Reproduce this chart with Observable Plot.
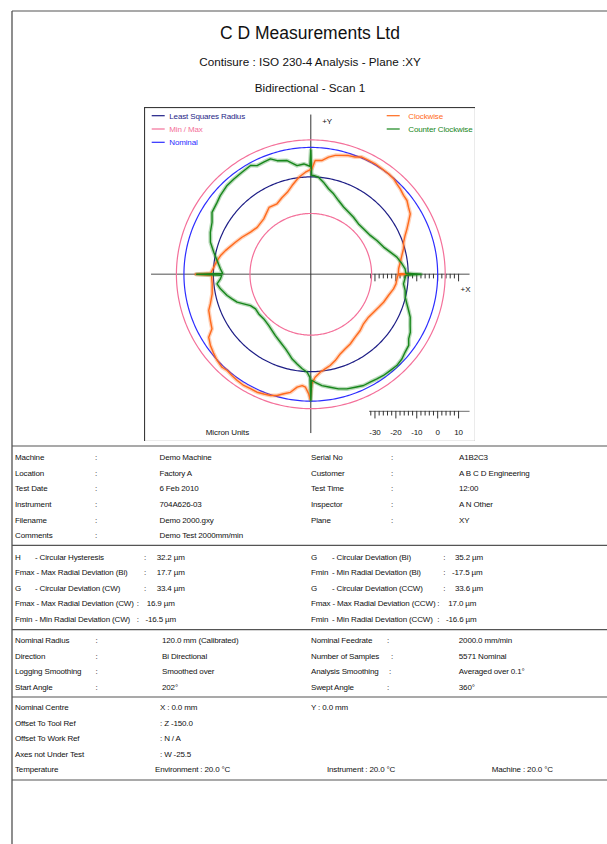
<!DOCTYPE html>
<html><head><meta charset="utf-8">
<script src="https://cdn.jsdelivr.net/npm/d3@7"></script>
<script src="https://cdn.jsdelivr.net/npm/@observablehq/plot@0.6"></script>
<style>
body{margin:0;background:#fff;}
#page{position:relative;width:607px;height:844px;overflow:hidden;background:#fff;}
#chart{position:absolute;left:144px;top:107px;}
#overlay{position:absolute;left:0;top:0;pointer-events:none;}
</style></head><body><div id="page"><div id="chart"></div></div>
<script>
// ---------- DATA (angle in degrees CCW from +X, radial deviation from nominal in µm) ----------
const clockwise = [[0,-13.5],[0.5,-18.8],[3.6,-18.6],[7.7,-17.5],[11.7,-16.2],[15.4,-14.7],[19.1,-13.7],[22.4,-11.9],[25.3,-9.8],[28.1,-7.7],[31.3,-5.0],[34.5,-4.0],[37.5,-2.7],[40.4,-2.4],[43.7,-1.5],[46.4,-1.0],[49.1,-0.2],[52.3,0.1],[56.0,0.2],[59.8,0.5],[63.1,0.4],[66.5,0.5],[69.3,-0.7],[72.4,-1.1],[75.4,-1.9],[78.4,-2.6],[81.4,-4.0],[84.5,-6.0],[87.8,-6.2],[89.4,-10.2],[93,-11.8],[97,-13.9],[101.9,-17.3],[106,-19.9],[110.5,-21.5],[115.6,-23.3],[122,-23.0],[130.3,-25.9],[138.8,-26.6],[145,-25.5],[151.7,-23.3],[157,-21.5],[164.5,-18.3],[168.3,-16.6],[171.7,-15.4],[175.9,-14.1],[179.4,-12.8],[180,-5.6],[180.6,-13.2],[185.5,-13.3],[191.2,-12.6],[196.4,-10.6],[199.5,-8.9],[204.7,-7.8],[208.9,-6.7],[211.7,-3.3],[215.4,-1.8],[219.4,-0.7],[222.6,0.2],[226.3,0.8],[229,0.3],[232.2,0.7],[235.3,1.1],[238.9,1.4],[242.2,1.2],[245.5,1.3],[248.6,0.8],[251.6,0.4],[254.5,-0.5],[257.3,-2.1],[260.2,-3.4],[263.1,-6.3],[265.6,-7.3],[267.3,-6.6],[269,-3.5],[269.7,-1.0],[270.5,-8.3],[272.4,-11.4],[275.5,-13.6],[278.6,-14.9],[282,-16.1],[285.8,-17.8],[290.3,-20.1],[294.8,-21.4],[299.5,-22.4],[305.2,-23.9],[311.3,-24.9],[316.8,-26.1],[323.4,-26.3],[328.9,-25.6],[334.1,-24.6],[339,-23.4],[344.7,-22.2],[350,-20.5],[353.6,-19.7],[357,-19.4],[359.5,-19.0]];
const counterClockwise = [[0,-8.0],[0.6,-15.2],[3.3,-15.5],[6.6,-16.8],[11.3,-18.7],[15.6,-21.2],[20.5,-23.5],[27.1,-25.2],[33.2,-26.7],[40.8,-27.4],[46.6,-27.5],[53.2,-26.6],[58.8,-25.9],[64,-24.9],[69.4,-23.0],[74.2,-20.7],[78.3,-18.9],[82.2,-16.2],[85.5,-14.1],[88.4,-13.4],[89.5,-13.3],[90,-1.3],[90.5,-9.0],[93.6,-7.8],[97.2,-8.3],[101.8,-5.1],[106.5,-4.0],[109.3,-2.2],[112.8,-2.5],[116.3,-2.7],[119,-1.2],[124,-1.8],[128.9,-2.1],[133.3,-2.3],[139,-3.3],[142.5,-4.2],[147.9,-4.9],[152.2,-7.3],[157.3,-8.6],[162.3,-10.3],[167.2,-13.1],[171.7,-15.4],[176.6,-17.4],[179.4,-18.5],[180,-6.1],[180.6,-18.1],[182.9,-17.4],[185.8,-15.6],[189.1,-16.9],[194.2,-19.4],[197.3,-21.2],[200.7,-23.0],[203.8,-25.6],[207.4,-28.2],[212,-29.5],[217.3,-29.4],[223.5,-29.7],[230.7,-29.0],[235.5,-28.0],[240,-26.8],[245.9,-25.1],[251.3,-23.0],[254.6,-21.2],[257.6,-19.2],[261.3,-17.3],[264.8,-15.3],[267.9,-13.8],[269.5,-11.4],[270,-0.4],[270.5,-10.0],[272.3,-9.0],[275.7,-7.2],[279.7,-5.9],[283.6,-4.3],[287.5,-3.2],[291.5,-2.6],[295.4,-1.8],[298.8,-1.8],[302.3,-1.5],[305.7,-1.1],[309.5,-1.0],[313.3,-0.7],[317.1,-1.2],[320.5,-2.2],[324,-2.8],[326.6,-4.6],[329.8,-5.6],[332.7,-7.2],[336.7,-8.9],[339.7,-10.8],[342.9,-12.6],[346.4,-14.2],[350.3,-14.9],[354.1,-16.1],[359.4,-15.2]];
const nominalDev = 0;       // nominal radius 120.0 mm
const leastSquaresDev = -14.1;
const maxDev = 3.6;         // LSQ + 17.7
const minDev = -31.6;       // LSQ - 17.5
const centreDev = -60.7;    // deviation plotted at the centre of the polar chart
const scaleTicks = [-32,-30,-28,-26,-24,-22,-20,-18,-16,-14,-12,-10,-8,-6,-4,-2,0,2,4,6,8,10];
const scaleLabels = [-30,-20,-10,0,10];

const infoLeft = [["Machine","Demo Machine"],["Location","Factory A"],["Test Date","6 Feb 2010"],["Instrument","704A626-03"],["Filename","Demo 2000.gxy"],["Comments","Demo Test 2000mm/min"]];
const infoRight = [["Serial No","A1B2C3"],["Customer","A B C D Engineering"],["Test Time","12:00"],["Inspector","A N Other"],["Plane","XY"]];
const resultsLeft = [["H","- Circular Hysteresis","32.2 µm"],["Fmax - Max Radial Deviation (Bi)","","17.7 µm"],["G","- Circular Deviation (CW)","33.4 µm"],["Fmax - Max Radial Deviation (CW)","","16.9 µm"],["Fmin","- Min Radial Deviation (CW)","-16.5 µm"]];
const resultsRight = [["G","- Circular Deviation (Bi)","35.2 µm"],["Fmin","- Min Radial Deviation (Bi)","-17.5 µm"],["G","- Circular Deviation (CCW)","33.6 µm"],["Fmax - Max Radial Deviation (CCW)","","17.0 µm"],["Fmin","- Min Radial Deviation (CCW)","-16.6 µm"]];
const setupLeft = [["Nominal Radius","120.0 mm (Calibrated)"],["Direction","Bi Directional"],["Logging Smoothing","Smoothed over"],["Start Angle","202°"]];
const setupRight = [["Nominal Feedrate","2000.0 mm/min"],["Number of Samples","5571 Nominal"],["Analysis Smoothing","Averaged over 0.1°"],["Swept Angle","360°"]];

// ---------- colours ----------
const C_CW = "#ff6a1c", C_CCW = "#17861b", C_PINK = "#f4709a", C_NOM = "#2d2dff", C_LSQ = "#1e1e86";
const FONT = "Arial, 'Liberation Sans', sans-serif";

// ---------- chart ----------
const W = 331, H = 334, K = 2.09, cx = 166.3, cy = 166.8;
const rad = a => a * Math.PI / 180;
const px = d => (d[1] - centreDev) * Math.cos(rad(d[0]));
const py = d => (d[1] - centreDev) * Math.sin(rad(d[0]));
const ring = dev => d3.range(0, 361, 1).map(a => [a, dev]);
const closed = arr => arr.concat([[arr[0][0] + 360, arr[0][1]]]);
const axisExtent = 76.2;
const scaleBarY = -65.6;
const ax = v => v - centreDev;

const chart = Plot.plot({
  width: W, height: H, margin: 0,
  x: {domain: [-cx / K, (W - cx) / K], axis: null},
  y: {domain: [-(H - cy) / K, cy / K], axis: null},
  style: {background: "white", fontFamily: FONT, fontSize: "8px", color: "#111", letterSpacing: "-0.1px"},
  marks: [
    Plot.frame({stroke: "#3a3a3a", strokeWidth: 1.2}),
    Plot.ruleY([0], {x1: -axisExtent, x2: axisExtent, stroke: "#8a8a8a", strokeWidth: 1.6}),
    Plot.ruleX([0], {y1: -axisExtent, y2: axisExtent, stroke: "#333", strokeWidth: 1}),
    Plot.ruleX(scaleTicks, {x: ax, y1: 0, y2: v => v % 10 === 0 ? -3.6 : -2.2, stroke: "#333", strokeWidth: 1}),
    Plot.ruleY([scaleBarY], {x1: ax(-32.6), x2: axisExtent, stroke: "#8a8a8a", strokeWidth: 1.4}),
    Plot.ruleX(scaleTicks, {x: ax, y1: scaleBarY, y2: v => scaleBarY - (v % 10 === 0 ? 3.6 : 2.2), stroke: "#333", strokeWidth: 1}),
    Plot.text(scaleLabels, {x: ax, y: scaleBarY - 10.1, text: d => String(d), fill: "#111"}),
    Plot.text(["Micron Units"], {x: -39.9, y: -75.6, text: d => d, fill: "#111"}),
    Plot.text(["+Y"], {x: 7.8, y: 73.3, text: d => d, fill: "#111"}),
    Plot.text(["+X"], {x: 74.0, y: -7.4, text: d => d, fill: "#111"}),
    Plot.line(ring(maxDev), {x: px, y: py, stroke: C_PINK, strokeWidth: 1.2}),
    Plot.line(ring(minDev), {x: px, y: py, stroke: C_PINK, strokeWidth: 1.2}),
    Plot.line(ring(nominalDev), {x: px, y: py, stroke: C_NOM, strokeWidth: 1.2}),
    Plot.line(ring(leastSquaresDev), {x: px, y: py, stroke: C_LSQ, strokeWidth: 1.2}),
    Plot.line(closed(clockwise), {x: px, y: py, stroke: C_CW, strokeWidth: 4, strokeOpacity: 0.3}),
    Plot.line(closed(counterClockwise), {x: px, y: py, stroke: C_CCW, strokeWidth: 4, strokeOpacity: 0.3}),
    Plot.line(closed(clockwise), {x: px, y: py, stroke: C_CW, strokeWidth: 1.4}),
    Plot.line(closed(counterClockwise), {x: px, y: py, stroke: C_CCW, strokeWidth: 1.4})
  ]
});
document.getElementById("chart").appendChild(chart);

// ---------- report page: frame, titles, legend, tables ----------
const svg = d3.select("#page").append("svg").attr("id", "overlay").attr("width", 607).attr("height", 844)
  .style("font-family", FONT);
const hline = (y, x1 = 12, x2 = 607) => svg.append("line").attr("x1", x1).attr("x2", x2).attr("y1", y).attr("y2", y).attr("stroke", "#555").attr("stroke-width", 1.2);
svg.append("line").attr("x1", 12).attr("x2", 12).attr("y1", 11).attr("y2", 844).attr("stroke", "#444").attr("stroke-width", 1.2);
hline(11);
const txt = (x, yc, s, size = 8, fill = "#111", anchor = "start", ls = -0.15) =>
  svg.append("text").attr("x", x).attr("y", yc + size * 0.36).attr("font-size", size + "px").attr("fill", fill)
     .attr("text-anchor", anchor).attr("letter-spacing", ls + "px").style("white-space", "pre").text(s);

txt(310, 33, "C D Measurements Ltd", 17.5, "#111", "middle", 0);
txt(310, 62, "Contisure : ISO 230-4 Analysis - Plane :XY", 11.7, "#111", "middle", 0);
txt(310, 88, "Bidirectional - Scan 1", 11.7, "#111", "middle", 0);

// legend
const legend = [["Least Squares Radius", C_LSQ, 151.7, 169.3, 115.7], ["Min / Max", C_PINK, 151.7, 169.3, 129], ["Nominal", C_NOM, 151.7, 169.3, 142.3],
                ["Clockwise", C_CW, 386.7, 408.3, 115.7], ["Counter Clockwise", C_CCW, 386.7, 408.3, 129]];
legend.forEach(([s, c, lx, tx, y]) => {
  svg.append("line").attr("x1", lx).attr("x2", lx + 13).attr("y1", y).attr("y2", y).attr("stroke", c).attr("stroke-width", 1.2);
  txt(tx, y, s, 8, c);
});

// section 1
const r1 = [457.3, 472.9, 488.5, 504.1, 519.7, 535.3];
hline(446);
infoLeft.forEach(([l, v], i) => { txt(15, r1[i], l); txt(95, r1[i], ":"); txt(159.5, r1[i], v); });
infoRight.forEach(([l, v], i) => { txt(311, r1[i], l); txt(391, r1[i], ":"); txt(459, r1[i], v); });
hline(545.3);
// section 2
const r2 = [556.7, 572.3, 587.9, 603.5, 619.1];
const colL = [[144, 156.7], [144, 156.7], [144, 156.7], [136.7, 146.7], [136.7, 145.5]];
const colR = [[443.3, 455], [443.3, 452], [443.3, 455], [437.3, 448.3], [437.3, 446]];
resultsLeft.forEach(([a, b, v], i) => {
  txt(15, r2[i], a);
  if (b) txt(35, r2[i], b);
  txt(colL[i][0], r2[i], ":"); txt(colL[i][1], r2[i], v);
});
resultsRight.forEach(([a, b, v], i) => {
  txt(311, r2[i], a);
  if (b) txt(332, r2[i], b);
  txt(colR[i][0], r2[i], ":"); txt(colR[i][1], r2[i], v);
});
hline(629.7);
// section 3
const r3 = [640.2, 655.8, 671.4, 687.0];
const rc = [387, 391, 389, 387];
setupLeft.forEach(([l, v], i) => { txt(15, r3[i], l); txt(95.5, r3[i], ":"); txt(162, r3[i], v); });
setupRight.forEach(([l, v], i) => { txt(311, r3[i], l); txt(rc[i], r3[i], ":"); txt(458.8, r3[i], v); });
hline(697);
// section 4
const r4 = [707.5, 723, 738.5, 754, 769.5];
txt(15, r4[0], "Nominal Centre"); txt(160, r4[0], "X : 0.0 mm"); txt(311, r4[0], "Y : 0.0 mm");
txt(15, r4[1], "Offset To Tool Ref"); txt(160, r4[1], ": Z -150.0");
txt(15, r4[2], "Offset To Work Ref"); txt(160, r4[2], ": N / A");
txt(15, r4[3], "Axes not Under Test"); txt(160, r4[3], ": W -25.5");
txt(15, r4[4], "Temperature"); txt(155, r4[4], "Environment : 20.0 °C"); txt(327, r4[4], "Instrument : 20.0 °C"); txt(491.7, r4[4], "Machine : 20.0 °C");
hline(780);
</script></body></html>
